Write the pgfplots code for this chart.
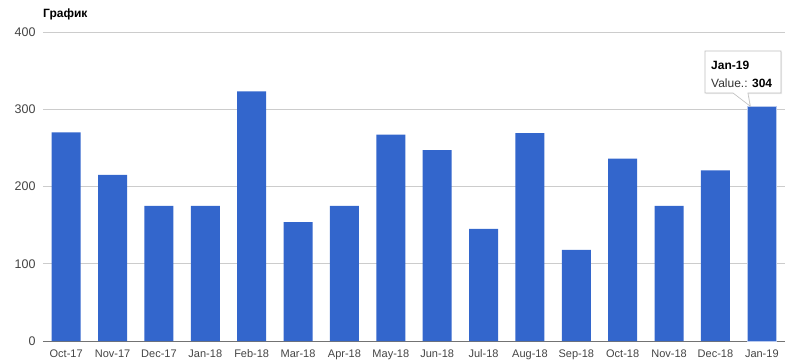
\documentclass[border=0pt]{standalone}
\usepackage{pgfplots}
\pgfplotsset{compat=1.18}
\usepackage{fontspec}
\setmainfont{Liberation Sans}
\usetikzlibrary{shadows}
\definecolor{barblue}{HTML}{3366CC}
\definecolor{gridc}{HTML}{CCCCCC}
\definecolor{ticktext}{HTML}{444444}
\begin{document}
\begin{tikzpicture}
\useasboundingbox (-43pt,-21pt) rectangle (757pt,341pt);
\begin{axis}[
  at={(0,0)}, anchor=south west,
  scale only axis, width=742pt, height=309pt,
  xmin=-0.5, xmax=15.5, ymin=0, ymax=400,
  ytick={100,200,300,400},
  extra y ticks={0},
  extra y tick style={grid style={draw=black!55, line width=1pt}},
  xtick=data,
  xticklabels={Oct-17,Nov-17,Dec-17,Jan-18,Feb-18,Mar-18,Apr-18,May-18,Jun-18,Jul-18,Aug-18,Sep-18,Oct-18,Nov-18,Dec-18,Jan-19},
  ymajorgrids, grid style={draw=gridc, line width=0.8pt},
  axis line style={draw=none},
  major tick length=0pt,
  tick style={draw=none},
  ticklabel style={text=ticktext},
  yticklabel style={font=\fontsize{12.5}{14}\selectfont, xshift=-4pt},
  xticklabel style={font=\fontsize{11}{13}\selectfont, anchor=base, yshift=-16pt},
  /pgf/number format/assume math mode=true,
  ybar, bar width=0.625, bar shift=0pt,
  clip=false,
]
\addplot[fill=barblue, draw=none] coordinates {
(0,270) (1,215) (2,175) (3,175) (4,323) (5,154) (6,175) (7,267)
(8,247) (9,145) (10,269) (11,118) (12,236) (13,175) (14,221) (15,304)};
\addplot[fill=barblue, draw=barblue!35, line width=0.8pt] coordinates {(15,304)};
% tooltip
\draw[draw=black!25, fill=white, line width=0.6pt,
      drop shadow={opacity=0.15, shadow xshift=1pt, shadow yshift=-1pt}]
  (axis cs:13.775,375.4) -- (axis cs:15.414,375.4) -- (axis cs:15.414,321)
  -- (axis cs:14.70,321) -- (axis cs:14.75,304) -- (axis cs:14.38,321)
  -- (axis cs:13.775,321) -- cycle;
\node[anchor=base west, inner sep=0pt, font=\fontsize{12}{14}\selectfont\bfseries]
  at (axis cs:13.904,352.1) {Jan-19};
\node[anchor=base west, inner sep=0pt, font=\fontsize{12}{14}\selectfont, text=black!80]
  at (axis cs:13.904,328.8) {Value.: \textbf{\textcolor{black}{304}}};
\node[anchor=base west, inner sep=0pt, font=\fontsize{12}{14}\selectfont\bfseries]
  at ([yshift=15pt]rel axis cs:0,1) {График};
\end{axis}
\end{tikzpicture}
\end{document}
